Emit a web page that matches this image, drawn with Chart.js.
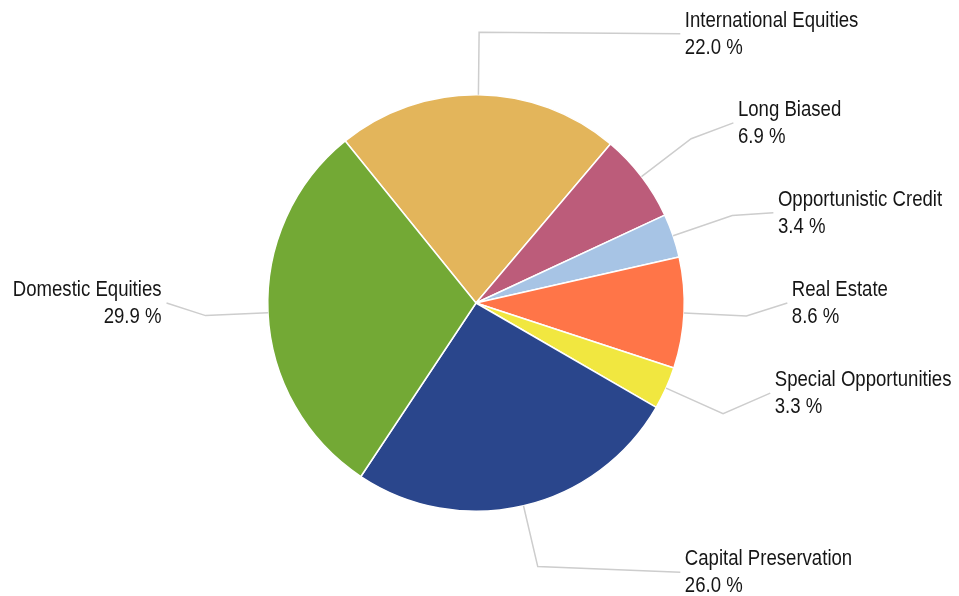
<!DOCTYPE html>
<html>
<head>
<meta charset="utf-8">
<script src="https://cdn.jsdelivr.net/npm/chart.js@4/dist/chart.umd.min.js"></script>
<style>
  html, body { margin: 0; padding: 0; background: #ffffff; }
  #wrap { width: 959px; height: 596px; position: relative; }
</style>
</head>
<body>
<div id="wrap"><canvas id="c"></canvas></div>
<script>
// ---- data ----
const categories = [
  "International Equities",
  "Long Biased",
  "Opportunistic Credit",
  "Real Estate",
  "Special Opportunities",
  "Capital Preservation",
  "Domestic Equities"
];
const allocation = [22.0, 6.9, 3.4, 8.6, 3.3, 26.0, 29.9];
const sliceColors = ["#E3B55B", "#BC5C7A", "#A7C4E5", "#FF7548", "#F1E740", "#2A468C", "#73A935"];

// ---- label layout (anchor of each label, in units of the pie radius, relative to centre) ----
const labelAnchors = [
  [0.981, -1.293, "left"],
  [1.236, -0.865, "left"],
  [1.428, -0.433, "left"],
  [1.495,  0.000, "left"],
  [1.413,  0.433, "left"],
  [0.981,  1.293, "left"],
  [-1.486, 0.000, "right"]
];

const leaderPlugin = {
  id: "leaderLabels",
  afterDatasetsDraw(chart) {
    const ctx = chart.ctx;
    const meta = chart.getDatasetMeta(0);
    const ds = chart.data.datasets[0];
    ctx.save();
    meta.data.forEach((arc, i) => {
      const p = arc.getProps(["x", "y", "startAngle", "endAngle", "outerRadius"], true);
      const R = p.outerRadius;
      const mid = (p.startAngle + p.endAngle) / 2;
      const ex = p.x + Math.cos(mid) * R, ey = p.y + Math.sin(mid) * R;
      const mx = p.x + Math.cos(mid) * R * 1.3, my = p.y + Math.sin(mid) * R * 1.3;
      const a = labelAnchors[i];
      const ax = p.x + a[0] * R, ay = p.y + a[1] * R;
      ctx.beginPath();
      ctx.strokeStyle = "#CDCDCD";
      ctx.lineWidth = 1.5;
      ctx.moveTo(ex, ey);
      ctx.lineTo(mx, my);
      ctx.lineTo(ax, ay);
      ctx.stroke();

      const sx = 0.845;
      ctx.fillStyle = "#161616";
      ctx.font = "22px 'Liberation Sans', Arial, sans-serif";
      ctx.textBaseline = "alphabetic";
      ctx.textAlign = a[2];
      const tx = a[2] === "left" ? ax + 4.5 : ax - 5;
      const lines = [chart.data.labels[i], ds.data[i].toFixed(1) + " %"];
      ctx.save();
      ctx.translate(tx, 0);
      ctx.scale(sx, 1);
      ctx.fillText(lines[0], 0, ay - 7);
      ctx.fillText(lines[1], 0, ay + 20);
      ctx.restore();
    });
    ctx.restore();
  }
};

new Chart(document.getElementById("c"), {
  type: "pie",
  data: {
    labels: categories,
    datasets: [{
      data: allocation,
      backgroundColor: sliceColors,
      borderColor: "#ffffff",
      borderWidth: 1.5,
      hoverBorderWidth: 1.5,
      hoverOffset: 0
    }]
  },
  options: {
    responsive: true,
    maintainAspectRatio: false,
    animation: false,
    rotation: -38.9,
    layout: { padding: { top: 94, bottom: 84, left: 200, right: 207 } },
    plugins: {
      legend: { display: false },
      tooltip: { enabled: false }
    }
  },
  plugins: [leaderPlugin]
});
</script>
</body>
</html>
